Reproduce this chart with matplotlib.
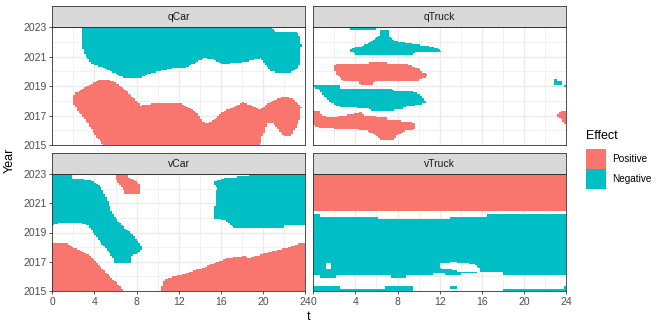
import numpy as np
import matplotlib.pyplot as plt
from matplotlib.path import Path
from matplotlib.patches import Rectangle
from matplotlib.colors import ListedColormap

plt.rcParams['font.family'] = ['Liberation Sans', 'DejaVu Sans']

# ---------------- data (outlines) ----------------
POS, NEG, NONE = 1, 2, 0

facets = ["qCar", "qTruck", "vCar", "vTruck"]
effect_labels = ["Positive", "Negative"]
effect_colors = ["#F8766D", "#00BFC4"]

x_ticks = [0, 4, 8, 12, 16, 20, 24]
y_ticks = [2015, 2017, 2019, 2021, 2023]

qcar_neg = [(2.8, 2023.0), (2.9, 2021.55), (3.1, 2021.1), (3.76, 2020.5), (4.73, 2020.3),
            (6.0, 2019.85), (6.66, 2019.6), (8.26, 2019.55), (9.2, 2019.85), (11.2, 2020.2),
            (12.8, 2020.3), (13.7, 2020.64), (14.4, 2020.9), (15.3, 2020.8), (16.1, 2020.5),
            (17.9, 2020.6), (19.8, 2020.9), (20.3, 2020.4), (20.8, 2020.0), (21.8, 2019.9),
            (22.7, 2019.95), (23.4, 2020.3), (23.5, 2020.9), (23.6, 2021.8), (23.4, 2022.45),
            (23.05, 2022.7), (21.1, 2022.7), (20.8, 2023.0)]
qcar_pos = [(2.0, 2018.26), (2.15, 2018.5), (2.8, 2018.8), (3.44, 2019.05), (4.4, 2019.4),
            (5.2, 2019.46), (6.2, 2019.17), (7.3, 2018.5), (8.1, 2017.9), (8.4, 2017.7),
            (9.9, 2017.85), (12.1, 2017.85), (13.1, 2017.47), (13.7, 2017.24), (14.2, 2016.6),
            (14.7, 2016.5), (15.3, 2016.67), (16.1, 2017.24), (16.9, 2017.47), (18.1, 2017.9),
            (18.9, 2017.7), (19.7, 2017.35), (20.2, 2017.7), (21.0, 2018.05), (21.8, 2018.26),
            (22.6, 2018.2), (23.2, 2017.9), (23.6, 2017.6), (23.5, 2016.8), (23.2, 2016.35),
            (22.6, 2015.55), (22.1, 2015.55), (21.6, 2015.9), (21.0, 2016.45), (20.5, 2016.55),
            (20.3, 2016.45), (20.2, 2016.0), (19.8, 2015.4), (19.7, 2015.0), (4.9, 2015.0),
            (4.1, 2015.65), (3.44, 2016.45), (2.8, 2017.0), (2.3, 2017.47), (2.0, 2017.9)]

qtruck_neg_a = [(3.55, 2023.0), (5.98, 2023.0), (5.98, 2022.86), (3.55, 2022.86)]
qtruck_neg_b = [(6.3, 2022.85), (7.1, 2022.8), (7.25, 2022.35), (7.7, 2022.1), (9.0, 2021.9),
                (10.1, 2021.8), (11.05, 2021.7), (11.7, 2021.6), (12.1, 2021.45), (12.1, 2021.3),
                (9.6, 2021.3), (9.47, 2021.1), (4.1, 2021.1), (3.9, 2021.3), (3.55, 2021.35),
                (3.6, 2021.55), (4.56, 2021.7), (5.5, 2022.0), (6.0, 2022.27), (6.3, 2022.45)]
qtruck_pos_a = [(2.0, 2020.4), (2.3, 2020.5), (5.2, 2020.5), (5.5, 2020.7), (6.9, 2020.7),
                (7.1, 2020.5), (9.0, 2020.46), (9.95, 2020.2), (10.4, 2019.96), (10.9, 2019.8),
                (10.7, 2019.64), (10.1, 2019.5), (9.9, 2019.33), (5.8, 2019.3), (5.67, 2019.1),
                (4.5, 2019.1), (4.24, 2019.3), (3.0, 2019.3), (2.66, 2019.5), (2.2, 2019.77),
                (2.0, 2020.1)]
qtruck_neg_c = [(0.0, 2019.1), (2.5, 2019.1), (2.5, 2018.87), (7.4, 2018.87), (7.6, 2018.7),
                (9.3, 2018.65), (10.1, 2018.5), (10.4, 2018.2), (10.7, 2017.9), (10.4, 2017.8),
                (9.6, 2017.7), (8.5, 2017.6), (8.4, 2017.4), (5.5, 2017.3), (5.35, 2017.5),
                (2.66, 2017.6), (1.9, 2017.8), (1.2, 2018.15), (0.76, 2018.6), (0.44, 2018.8),
                (0.0, 2018.9)]
qtruck_pos_b = [(0.0, 2017.3), (0.7, 2017.3), (0.76, 2017.0), (1.7, 2016.9), (3.77, 2017.1),
                (4.56, 2017.25), (4.7, 2017.05), (6.9, 2016.9), (7.1, 2016.67), (9.0, 2016.6),
                (9.7, 2016.45), (9.7, 2016.06), (8.8, 2016.0), (7.9, 2015.65), (7.6, 2015.3),
                (6.5, 2015.3), (6.0, 2015.65), (5.0, 2016.0), (3.3, 2016.1), (0.76, 2016.15),
                (0.0, 2016.33)]
qtruck_neg_d = [(22.9, 2019.46), (23.1, 2019.46), (23.1, 2019.3), (23.7, 2019.3),
                (23.7, 2019.1), (22.9, 2019.1)]
qtruck_neg_e = [(23.85, 2019.1), (24.0, 2019.1), (24.0, 2018.95), (23.85, 2018.95)]
qtruck_pos_c = [(23.25, 2017.1), (23.55, 2017.3), (24.0, 2017.3), (24.0, 2016.33),
                (23.7, 2016.67), (23.2, 2016.95)]

vcar_neg_a = [(0.0, 2022.9), (1.8, 2022.9), (1.85, 2022.7), (3.4, 2022.6), (4.2, 2022.4),
              (4.65, 2022.05), (4.97, 2021.6), (5.3, 2021.13), (5.6, 2020.45), (6.1, 2019.9),
              (6.9, 2019.3), (7.66, 2018.85), (8.1, 2018.4), (8.55, 2017.94), (8.13, 2017.6),
              (7.5, 2017.37), (7.5, 2016.9), (5.9, 2016.9), (5.75, 2017.26), (5.3, 2017.7),
              (4.65, 2018.3), (4.2, 2018.75), (3.7, 2019.2), (3.4, 2019.5), (2.75, 2019.66),
              (1.2, 2019.7), (0.55, 2019.66), (0.0, 2019.5)]
vcar_pos_a = [(5.9, 2023.0), (7.0, 2023.0), (7.2, 2022.77), (8.0, 2022.5), (8.3, 2022.27),
              (8.3, 2021.7), (6.87, 2021.7), (6.7, 2022.0), (6.1, 2022.6), (5.9, 2022.9)]
vcar_neg_b = [(15.3, 2022.5), (16.0, 2022.6), (16.2, 2022.7), (18.3, 2022.85), (20.3, 2023.0),
              (24.0, 2023.0), (24.0, 2019.5), (22.06, 2019.5), (21.9, 2019.3), (17.3, 2019.3),
              (16.8, 2019.6), (16.4, 2019.86), (15.4, 2019.9), (15.4, 2020.7), (15.6, 2022.05),
              (15.35, 2022.35)]
vcar_pos_b = [(0.0, 2018.28), (1.33, 2018.28), (1.96, 2017.94), (2.6, 2017.8), (3.4, 2017.48),
              (4.0, 2017.14), (4.65, 2016.57), (5.3, 2016.12), (5.9, 2015.67), (6.4, 2015.32),
              (6.8, 2015.0), (0.0, 2015.0)]
vcar_pos_c = [(10.35, 2015.0), (10.45, 2015.55), (10.66, 2015.77), (11.45, 2016.0),
              (12.2, 2016.1), (13.5, 2016.42), (14.3, 2016.58), (16.0, 2017.1), (16.8, 2017.26),
              (18.26, 2017.4), (18.6, 2017.26), (19.85, 2017.5), (20.8, 2017.7), (22.2, 2017.94),
              (23.3, 2018.2), (24.0, 2018.28), (24.0, 2015.0)]

vtruck_pos = [(0.0, 2020.5), (24.0, 2020.5), (24.0, 2023.0), (0.0, 2023.0)]
vtruck_neg = [(0.0, 2020.27), (0.7, 2020.27), (0.7, 2020.06), (6.14, 2020.06), (6.14, 2019.88),
              (12.95, 2019.88), (12.95, 2020.06), (16.5, 2020.06), (16.5, 2020.27),
              (24.0, 2020.27), (24.0, 2016.12), (18.0, 2016.12), (18.0, 2016.3), (15.8, 2016.3),
              (14.0, 2016.25), (13.9, 2016.1), (12.6, 2016.1), (12.5, 2016.25), (11.4, 2016.25),
              (11.3, 2016.12), (8.9, 2016.12), (8.9, 2015.93), (7.3, 2015.93), (7.3, 2016.12),
              (2.1, 2016.12), (2.1, 2015.93), (0.7, 2015.93), (0.7, 2016.12), (0.0, 2016.12)]
vtruck_hole_a = [(1.24, 2016.9), (1.71, 2016.9), (1.71, 2016.47), (1.24, 2016.47)]
vtruck_hole_b = [(12.0, 2016.9), (12.9, 2016.9), (13.1, 2017.0), (14.2, 2016.92),
                 (15.2, 2016.85), (15.8, 2016.55), (15.8, 2016.3), (14.0, 2016.3),
                 (13.2, 2016.45), (12.0, 2016.55)]
vtruck_neg_s1 = [(0.0, 2015.32), (2.5, 2015.32), (2.5, 2015.0), (0.0, 2015.0)]
vtruck_neg_s2 = [(2.5, 2015.15), (6.9, 2015.15), (6.9, 2015.0), (2.5, 2015.0)]
vtruck_neg_s3 = [(6.9, 2015.32), (9.5, 2015.32), (9.5, 2015.0), (6.9, 2015.0)]
vtruck_neg_s4 = [(12.95, 2015.32), (13.75, 2015.32), (13.75, 2015.17), (12.95, 2015.17)]
vtruck_neg_s5 = [(18.0, 2015.15), (23.9, 2015.15), (23.9, 2015.0), (18.0, 2015.0)]
vtruck_neg_s6 = [(23.85, 2015.32), (24.0, 2015.32), (24.0, 2015.0), (23.85, 2015.0)]

shapes = {
    "qCar": [(NEG, qcar_neg), (POS, qcar_pos)],
    "qTruck": [(NEG, qtruck_neg_a), (NEG, qtruck_neg_b), (POS, qtruck_pos_a),
               (NEG, qtruck_neg_c), (POS, qtruck_pos_b), (NEG, qtruck_neg_d),
               (NEG, qtruck_neg_e), (POS, qtruck_pos_c)],
    "vCar": [(NEG, vcar_neg_a), (POS, vcar_pos_a), (NEG, vcar_neg_b),
             (POS, vcar_pos_b), (POS, vcar_pos_c)],
    "vTruck": [(POS, vtruck_pos), (NEG, vtruck_neg), (NONE, vtruck_hole_a),
               (NONE, vtruck_hole_b), (NEG, vtruck_neg_s1), (NEG, vtruck_neg_s2),
               (NEG, vtruck_neg_s3), (NEG, vtruck_neg_s4), (NEG, vtruck_neg_s5),
               (NEG, vtruck_neg_s6)],
}

# raster cells (t in 10 min steps, year in months)
t_edges = np.linspace(0, 24, 145)
y_edges = np.linspace(2015, 2023, 97)
t_mid = (t_edges[:-1] + t_edges[1:]) / 2
y_mid = (y_edges[:-1] + y_edges[1:]) / 2


def rasterize(items):
    tt, yy = np.meshgrid(t_mid, y_mid)
    pts = np.column_stack([tt.ravel(), yy.ravel()])
    grid = np.zeros(tt.shape)
    for eff, poly in items:
        inside = Path(poly).contains_points(pts).reshape(tt.shape)
        grid[inside] = eff
    return np.ma.masked_equal(grid, 0)


# ---------------- layout (pixel boxes) ----------------
W, H = 664, 332
fig = plt.figure(figsize=(W / 100, H / 100), dpi=100)

cols = [(52.3, 305.3), (313.3, 566.0)]
rows = [(27.3, 145.0), (174.0, 291.0)]
strip_h = 20.8

cmap = ListedColormap(effect_colors)
GRID = "#EBEBEB"
DARK = "#333333"

for i, name in enumerate(facets):
    r, c = divmod(i, 2)
    x0, x1 = cols[c]
    y0, y1 = rows[r]
    ax = fig.add_axes([x0 / W, 1 - y1 / H, (x1 - x0) / W, (y1 - y0) / H])
    ax.set_xlim(0, 24)
    ax.set_ylim(2015, 2023)
    ax.set_xticks(x_ticks)
    ax.set_yticks(y_ticks)
    ax.set_xticks(np.arange(2, 24, 4), minor=True)
    ax.set_yticks(np.arange(2016, 2023, 2), minor=True)
    ax.grid(True, which="major", color=GRID, lw=1.0)
    ax.grid(True, which="minor", color=GRID, lw=0.5)
    ax.set_axisbelow(True)
    ax.tick_params(which="minor", length=0)
    ax.tick_params(which="major", length=2.5, width=0.6, color=DARK,
                   labelsize=7.5, labelcolor="#4D4D4D", pad=1.5)
    if r == 0:
        ax.tick_params(axis="x", length=0, labelbottom=False)
    if c == 1:
        ax.tick_params(axis="y", length=0, labelleft=False)
    for s in ax.spines.values():
        s.set_color(DARK)
        s.set_linewidth(0.6)

    grid = rasterize(shapes[name])
    ax.pcolormesh(t_edges, y_edges, grid, cmap=cmap, vmin=0.5, vmax=2.5,
                  shading="flat", zorder=2)

    sax = fig.add_axes([x0 / W, 1 - y0 / H, (x1 - x0) / W, strip_h / H])
    sax.set_facecolor("#D9D9D9")
    sax.set_xticks([])
    sax.set_yticks([])
    for s in sax.spines.values():
        s.set_color(DARK)
        s.set_linewidth(0.6)
    sax.text(0.5, 0.5, name, ha="center", va="center", fontsize=7.5, color="#1A1A1A",
             transform=sax.transAxes)

# axis titles
fig.text(309 / W, 1 - 317 / H, "t", ha="center", va="center", fontsize=9)
fig.text(10 / W, 1 - 160 / H, "Year", ha="center", va="center", rotation=90, fontsize=9)

# legend
fig.text(586 / W, 1 - 136 / H, "Effect", ha="left", va="center", fontsize=9)
for k, (lab, col) in enumerate(zip(effect_labels, effect_colors)):
    ytop = 149.3 + k * 20
    fig.add_artist(Rectangle((586 / W, 1 - (ytop + 19.5) / H), 19.5 / W, 19.5 / H,
                             transform=fig.transFigure, facecolor=col, edgecolor="none"))
    fig.text(612.5 / W, 1 - (ytop + 10) / H, lab, ha="left", va="center", fontsize=7.2)

fig.savefig("out.png", dpi=100)
